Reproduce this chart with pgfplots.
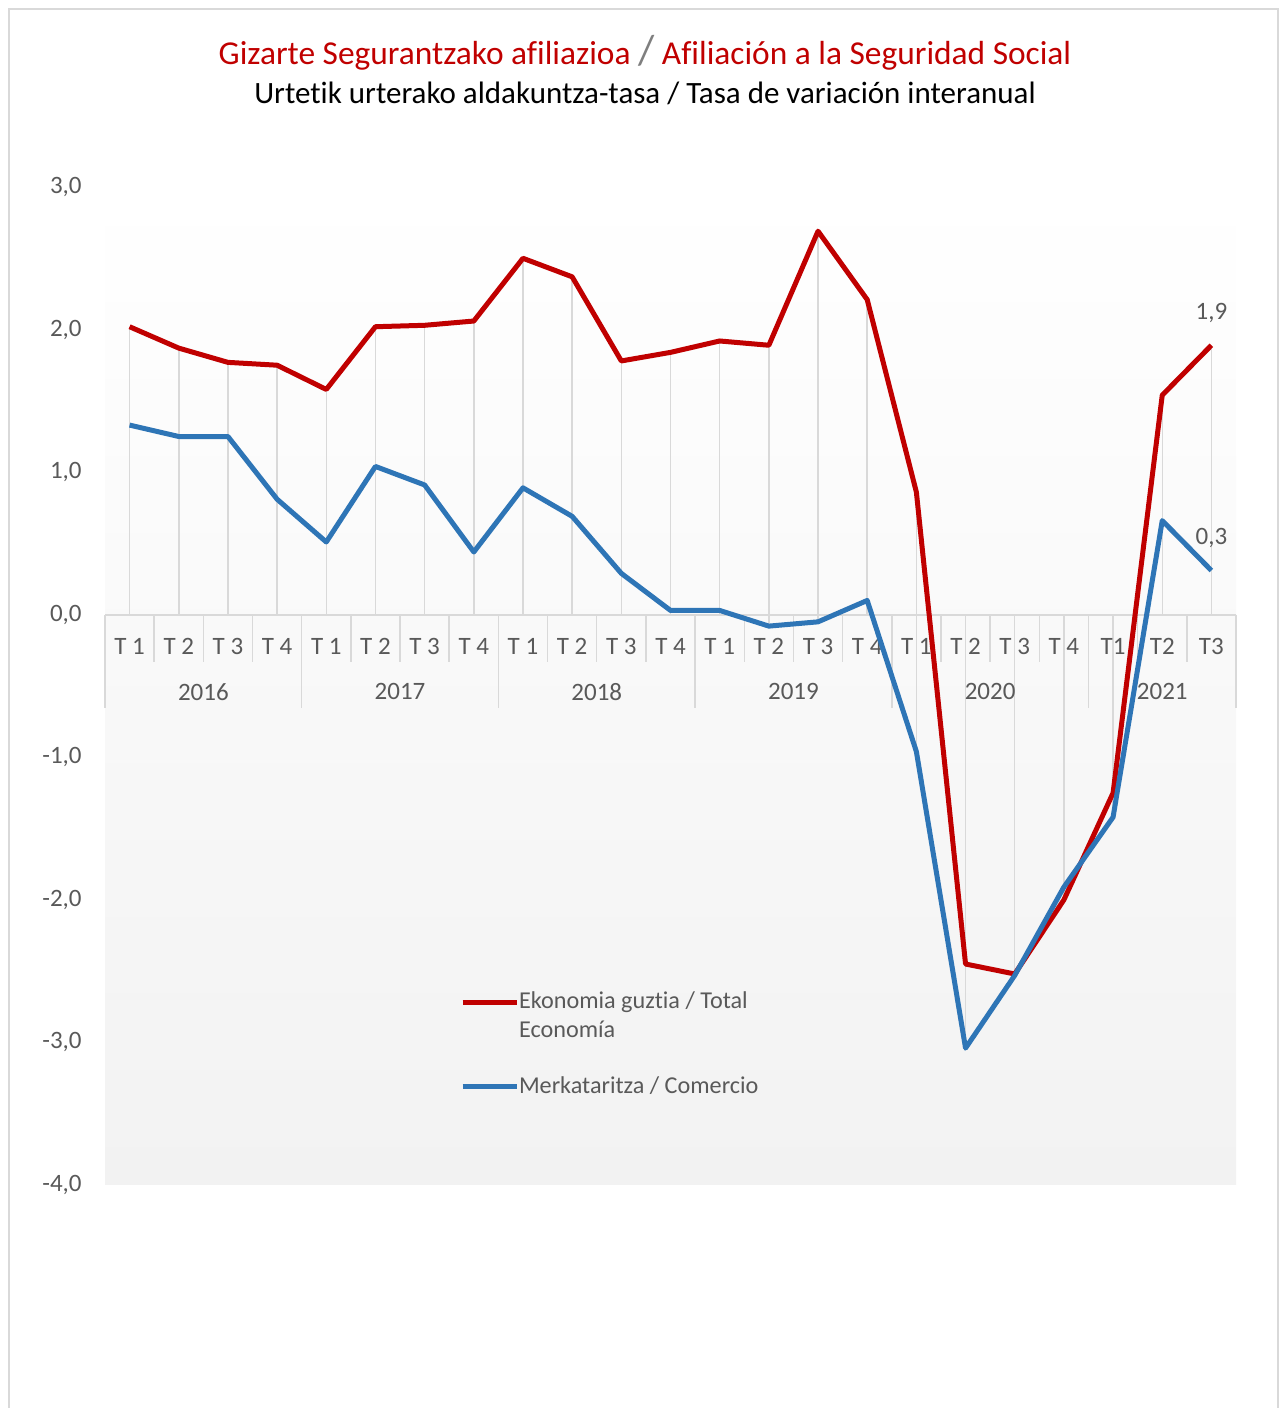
\documentclass[border=0pt]{standalone}
\usepackage{fontspec}
\setmainfont{Carlito}[Ligatures=NoCommon]
\usepackage{pgfplots}
\pgfplotsset{compat=1.18}
\usepackage{pgfplotstable}
\definecolor{redline}{HTML}{C00000}
\definecolor{blueline}{HTML}{2E75B6}
\definecolor{gridgray}{HTML}{D9D9D9}
\definecolor{labelgray}{HTML}{595959}
\definecolor{bggray}{HTML}{F2F2F2}
\definecolor{slashgray}{HTML}{7F7F7F}
\newcommand\lab{\fontsize{12.5}{14.5}\selectfont}
\newcommand\leg{\fontsize{12.1}{14.5}\selectfont}

\pgfplotstableread{
x total comercio
0  2.02  1.33
1  1.87  1.25
2  1.77  1.25
3  1.75  0.81
4  1.58  0.51
5  2.02  1.04
6  2.03  0.91
7  2.06  0.44
8  2.50  0.89
9  2.37  0.69
10 1.78  0.29
11 1.84  0.03
12 1.92  0.03
13 1.89  -0.08
14 2.69  -0.05
15 2.21  0.10
16 0.86  -0.96
17 -2.45 -3.04
18 -2.52 -2.53
19 -2.00 -1.91
20 -1.25 -1.42
21 1.54  0.66
22 1.89  0.31
}\datatable

\pgfplotstableread{
x total comercio
22 1.89 0.31
}\lasttable

\begin{document}
\begin{tikzpicture}
\path[use as bounding box] (0pt,0pt) rectangle (642pt,704pt);
\draw[gridgray, line width=1pt] (4.5pt,-1pt) -- (4.5pt,699.5pt) -- (639pt,699.5pt) -- (639pt,-1pt);
\node[font=\fontsize{16.7}{19}\selectfont, text=redline] at (322.5pt,677.5pt)
  {Gizarte Segurantzako afiliazioa {\fontsize{21}{21}\selectfont\color{slashgray}/} Afiliación a la Seguridad Social};
\node[font=\fontsize{15.5}{18}\selectfont, text=black] at (322.5pt,657.5pt)
  {Urtetik urterako aldakuntza-tasa / Tasa de variación interanual};
\begin{axis}[
  at={(52.5pt,111.5pt)}, anchor=south west,
  scale only axis, width=565.5pt, height=499pt,
  xmin=-0.5, xmax=22.5, ymin=-4, ymax=3,
  clip=false,
  axis line style={draw=none},
  axis background/.style={shade, top color=white, bottom color=bggray},
  xtick=\empty,
  ytick={-4,-3,-2,-1,0,1,2,3},
  major tick length=0pt,
  tick style={draw=none},
  /pgf/number format/.cd, use comma, fixed, fixed zerofill, precision=1, assume math mode=true,
  /pgfplots/.cd,
  yticklabel style={font=\lab, text=labelgray, inner sep=0pt, xshift=-11.5pt},
  legend style={at={(axis cs:6.72,-2.646)}, anchor=north west, draw=none, fill=none,
    font=\leg, text=labelgray, inner sep=0pt, outer sep=0pt, row sep=18pt,
    nodes={inner sep=0pt, align=left},
    /tikz/every odd column/.append style={column sep=0pt}},
  legend cell align=left,
]
% drop lines
\addplot[ycomb, gridgray, line width=0.75pt, forget plot] table[x=x,y=total]{\datatable};
\addplot[ycomb, gridgray, line width=0.75pt, forget plot] table[x=x,y=comercio]{\datatable};
% axis line and ticks
\draw[gridgray, line width=1pt] (axis cs:-0.5,0) -- (axis cs:22.5,0);
\pgfplotsinvokeforeach{0.5,1.5,2.5,4.5,5.5,6.5,8.5,9.5,10.5,12.5,13.5,14.5,16.5,17.5,18.5,20.5,21.5}{
  \draw[gridgray, line width=0.75pt] (axis cs:#1,0) -- ++(0pt,-23.5pt);
}
\pgfplotsinvokeforeach{-0.5,3.5,7.5,11.5,15.5,19.5,22.5}{
  \draw[gridgray, line width=0.75pt] (axis cs:#1,0) -- ++(0pt,-46.5pt);
}
\pgfplotsinvokeforeach{0,4,8,12,16}{\node[font=\lab, text=labelgray] at (axis cs:#1,0) [yshift=-16pt] {T 1};}
\pgfplotsinvokeforeach{1,5,9,13,17}{\node[font=\lab, text=labelgray] at (axis cs:#1,0) [yshift=-16pt] {T 2};}
\pgfplotsinvokeforeach{2,6,10,14,18}{\node[font=\lab, text=labelgray] at (axis cs:#1,0) [yshift=-16pt] {T 3};}
\pgfplotsinvokeforeach{3,7,11,15,19}{\node[font=\lab, text=labelgray] at (axis cs:#1,0) [yshift=-16pt] {T 4};}
\node[font=\lab, text=labelgray] at (axis cs:20,0) [yshift=-16pt] {T1};
\node[font=\lab, text=labelgray] at (axis cs:21,0) [yshift=-16pt] {T2};
\node[font=\lab, text=labelgray] at (axis cs:22,0) [yshift=-16pt] {T3};
\node[font=\lab, text=labelgray] at (axis cs:1.5,0) [yshift=-38.5pt] {2016};
\node[font=\lab, text=labelgray] at (axis cs:5.5,0) [yshift=-38.5pt] {2017};
\node[font=\lab, text=labelgray] at (axis cs:9.5,0) [yshift=-38.5pt] {2018};
\node[font=\lab, text=labelgray] at (axis cs:13.5,0) [yshift=-38.5pt] {2019};
\node[font=\lab, text=labelgray] at (axis cs:17.5,0) [yshift=-38.5pt] {2020};
\node[font=\lab, text=labelgray] at (axis cs:21,0) [yshift=-38.5pt] {2021};
% series
\addplot[redline, line width=2.5pt, line join=round, no marks,
  legend image code/.code={\draw[redline, line width=2.5pt] (0pt,7pt) -- (27pt,7pt);}]
  table[x=x,y=total]{\datatable};
\addlegendentry{Ekonomia guztia / Total\\Economía}
\addplot[blueline, line width=2.5pt, line join=round, no marks,
  legend image code/.code={\draw[blueline, line width=2.5pt] (0pt,0pt) -- (27pt,0pt);}]
  table[x=x,y=comercio]{\datatable};
\addlegendentry{Merkataritza / Comercio}
% data labels
\addplot[draw=none, no marks, forget plot, nodes near coords,
  every node near coord/.style={font=\lab, text=labelgray, anchor=center, yshift=16pt}]
  table[x=x,y=total]{\lasttable};
\addplot[draw=none, no marks, forget plot, nodes near coords,
  every node near coord/.style={font=\lab, text=labelgray, anchor=center, yshift=16.5pt}]
  table[x=x,y=comercio]{\lasttable};
\end{axis}
\end{tikzpicture}
\end{document}
